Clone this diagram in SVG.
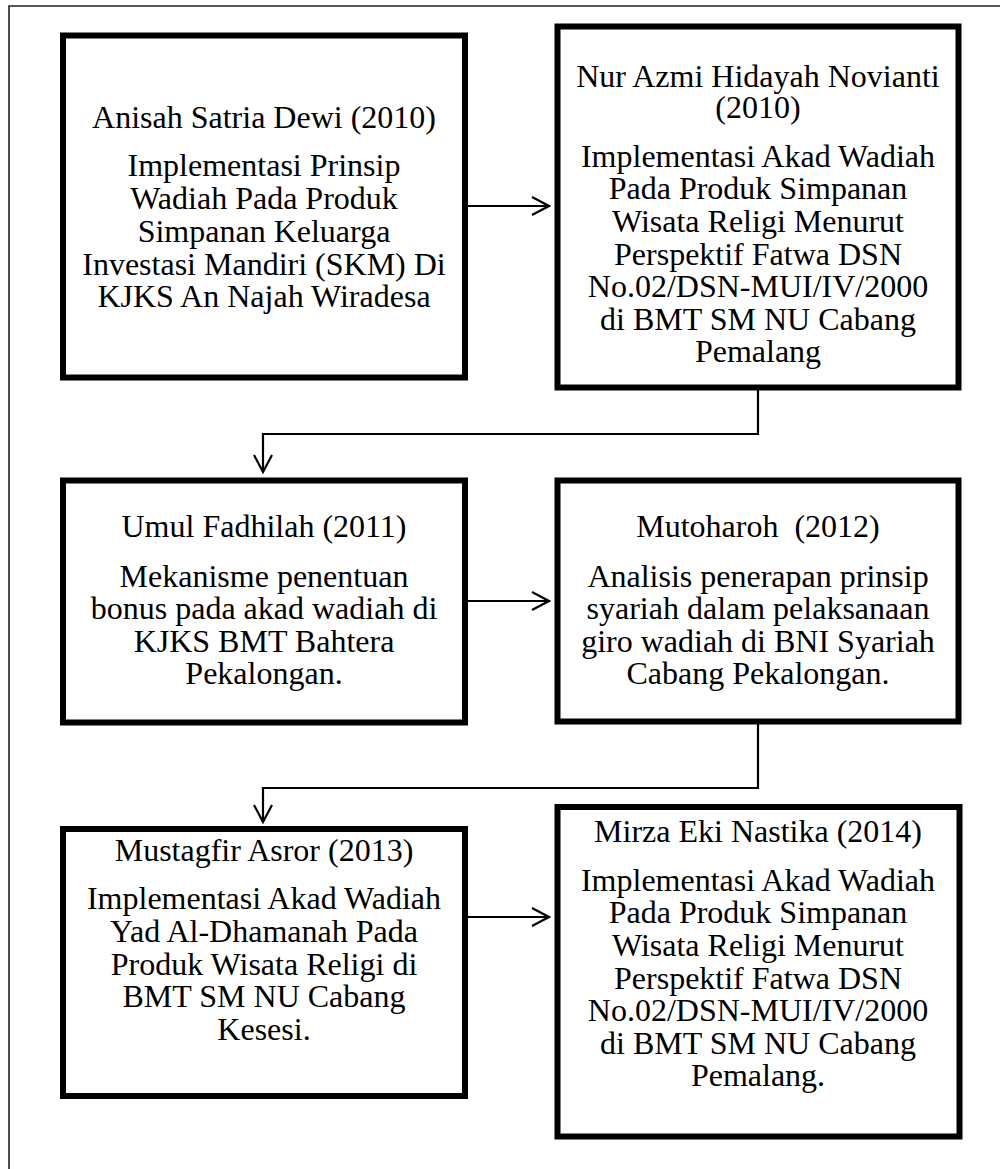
<svg xmlns="http://www.w3.org/2000/svg" width="1008" height="1169" viewBox="0 0 1008 1169">
<defs>
<style>
.box{fill:#fff;stroke:#000;stroke-width:6}
.t{font-family:"Liberation Serif","Times New Roman",serif;font-size:32px;fill:#000;text-anchor:middle}
.c{fill:none;stroke:#000;stroke-width:2.2}
.frame{fill:none;stroke:#222;stroke-width:1.6}
</style>
<marker id="ah" viewBox="0 0 20 20" refX="18" refY="10" markerWidth="20" markerHeight="20" markerUnits="userSpaceOnUse" orient="auto">
<path d="M1,1 L18,10 L1,19" fill="none" stroke="#000" stroke-width="2.2"/>
</marker>
</defs>
<rect width="1008" height="1169" fill="#fff"/>
<path class="frame" d="M9,1169 V6 H1000"/>
<g id="n1">
<rect class="box" x="63" y="35.5" width="402" height="342"/>
<text class="t" x="264" y="128">Anisah Satria Dewi (2010)</text>
<text class="t" x="264" y="176">Implementasi Prinsip</text>
<text class="t" x="264" y="209">Wadiah Pada Produk</text>
<text class="t" x="264" y="242">Simpanan Keluarga</text>
<text class="t" x="264" y="275">Investasi Mandiri (SKM) Di</text>
<text class="t" x="264" y="307">KJKS An Najah Wiradesa</text>
</g>
<g id="n2">
<rect class="box" x="557.5" y="26.5" width="401" height="361"/>
<text class="t" x="758" y="87">Nur Azmi Hidayah Novianti</text>
<text class="t" x="758" y="118">(2010)</text>
<text class="t" x="758" y="167">Implementasi Akad Wadiah</text>
<text class="t" x="758" y="199">Pada Produk Simpanan</text>
<text class="t" x="758" y="232">Wisata Religi Menurut</text>
<text class="t" x="758" y="265">Perspektif Fatwa DSN</text>
<text class="t" x="758" y="297">No.02/DSN-MUI/IV/2000</text>
<text class="t" x="758" y="330">di BMT SM NU Cabang</text>
<text class="t" x="758" y="362">Pemalang</text>
</g>
<g id="n3">
<rect class="box" x="63" y="480.5" width="402" height="242"/>
<text class="t" x="264" y="537">Umul Fadhilah (2011)</text>
<text class="t" x="264" y="587">Mekanisme penentuan</text>
<text class="t" x="264" y="619">bonus pada akad wadiah di</text>
<text class="t" x="264" y="652">KJKS BMT Bahtera</text>
<text class="t" x="264" y="684">Pekalongan.</text>
</g>
<g id="n4">
<rect class="box" x="557.5" y="480.5" width="401" height="241"/>
<text class="t" x="758" y="537" xml:space="preserve">Mutoharoh  (2012)</text>
<text class="t" x="758" y="587">Analisis penerapan prinsip</text>
<text class="t" x="758" y="619">syariah dalam pelaksanaan</text>
<text class="t" x="758" y="652">giro wadiah di BNI Syariah</text>
<text class="t" x="758" y="684">Cabang Pekalongan.</text>
</g>
<g id="n5">
<rect class="box" x="63" y="829" width="402" height="267"/>
<text class="t" x="264" y="861">Mustagfir Asror (2013)</text>
<text class="t" x="264" y="909">Implementasi Akad Wadiah</text>
<text class="t" x="264" y="942">Yad Al-Dhamanah Pada</text>
<text class="t" x="264" y="975">Produk Wisata Religi di</text>
<text class="t" x="264" y="1007">BMT SM NU Cabang</text>
<text class="t" x="264" y="1040">Kesesi.</text>
</g>
<g id="n6">
<rect class="box" x="557.5" y="807" width="402" height="329.5"/>
<text class="t" x="758" y="842">Mirza Eki Nastika (2014)</text>
<text class="t" x="758" y="891">Implementasi Akad Wadiah</text>
<text class="t" x="758" y="923">Pada Produk Simpanan</text>
<text class="t" x="758" y="956">Wisata Religi Menurut</text>
<text class="t" x="758" y="989">Perspektif Fatwa DSN</text>
<text class="t" x="758" y="1021">No.02/DSN-MUI/IV/2000</text>
<text class="t" x="758" y="1054">di BMT SM NU Cabang</text>
<text class="t" x="758" y="1086">Pemalang.</text>
</g>
<g id="connectors">
<path class="c" d="M467,206 H549" marker-end="url(#ah)"/>
<path class="c" d="M758,390 V434 H263 V472" marker-end="url(#ah)"/>
<path class="c" d="M467,601 H549" marker-end="url(#ah)"/>
<path class="c" d="M758,724 V788 H263 V822" marker-end="url(#ah)"/>
<path class="c" d="M467,917 H549" marker-end="url(#ah)"/>
</g>
</svg>
